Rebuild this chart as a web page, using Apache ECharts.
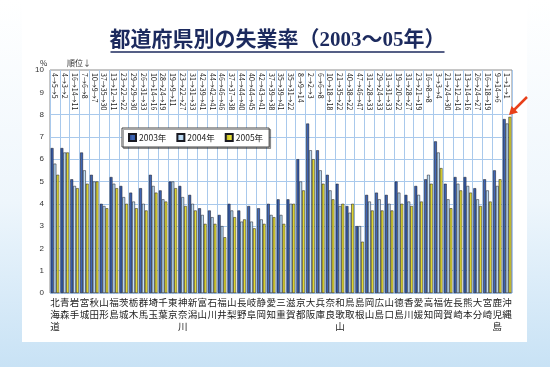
<!DOCTYPE html>
<html><head><meta charset="utf-8">
<script src="https://cdn.jsdelivr.net/npm/echarts@6/dist/echarts.min.js"></script>
<style>html,body{margin:0;padding:0;}#c{width:550px;height:367px;}</style>
</head><body><div id="c"></div>
<script>
const prefectures = ['北海道','青森','岩手','宮城','秋田','山形','福島','茨城','栃木','群馬','埼玉','千葉','東京','神奈川','新潟','富山','石川','福井','山梨','長野','岐阜','静岡','愛知','三重','滋賀','京都','大阪','兵庫','奈良','和歌山','鳥取','島根','岡山','広島','山口','徳島','香川','愛媛','高知','福岡','佐賀','長崎','熊本','大分','宮崎','鹿児島','沖縄'];
const rate2003 = [6.5,6.5,5.1,6.3,5.3,4.0,5.2,4.8,4.5,4.7,5.3,4.6,5.0,4.8,4.4,3.8,3.7,3.5,4.0,3.7,3.9,3.8,4.0,4.2,4.2,6.0,7.6,6.4,5.3,4.9,3.9,3.0,4.4,4.5,4.4,5.0,4.4,4.8,5.1,6.8,4.9,5.2,5.2,4.7,5.1,5.5,7.8];
const rate2004 = [5.8,6.3,4.8,5.5,5.0,3.9,4.9,4.3,4.1,4.0,4.8,4.2,5.0,4.3,4.0,3.5,3.4,3.0,3.7,3.2,3.2,3.3,3.5,3.5,4.0,5.0,6.4,5.5,4.6,3.9,3.6,3.0,4.1,4.2,4.0,4.5,4.1,4.4,5.3,6.3,4.2,4.9,4.8,4.2,4.6,4.8,7.6];
const rate2005 = [5.3,6.3,4.7,4.9,5.0,3.8,4.7,4.0,3.8,3.7,4.5,4.1,4.7,3.9,3.7,3.1,3.1,2.5,3.4,3.3,2.9,3.1,3.4,3.1,4.0,4.6,6.0,4.9,4.2,4.0,4.0,2.3,3.7,3.7,3.7,4.0,3.9,4.1,4.9,5.6,3.8,4.6,4.5,3.9,4.1,5.1,7.9];
const ranks = ['4→5→5','4→3→2','16→14→11','7→6→8','10→9→7','37→35→30','13→12→11','23→22→22','29→29→30','26→31→33','10→14→16','28→24→19','19→9→11','23→22→27','31→31→33','42→39→41','44→42→41','46→46→46','37→37→38','44→44→40','40→44→45','42→43→41','37→39→38','35→39→41','35→31→22','8→9→14','2→2→3','6→6→8','10→18→18','21→35→22','40→38→22','47→46→47','31→28→33','29→24→33','31→31→33','19→20→22','31→28→27','23→21→19','16→8→8','3→3→4','21→24→30','13→12→14','13→14→16','26→24→27','16→18→19','9→14→6','1→1→1'];
const seriesNames = ['2003年','2004年','2005年'];
const yTicks = [0,1,2,3,4,5,6,7,8,9,10];

function hgrad(stops){return {type:'linear',x:0,y:0,x2:1,y2:0,colorStops:stops.map((c,i)=>({offset:i/(stops.length-1),color:c}))};}
const fills = [
  hgrad(['#1e3a80','#4068b8','#2a4c98']),
  hgrad(['#86afd6','#c4e0f6','#9cc2e4']),
  hgrad(['#a39d2c','#e2da30','#f6f040'])
];
const gridColor = '#a9c9ec';
const chart = echarts.init(document.getElementById('c'), null, {renderer:'canvas'});
const titleFont = 'bold 21px "Liberation Serif", "Noto Sans CJK JP", sans-serif';
const tcx = 277.5;
const option = {
  animation:false,
  backgroundColor:{type:'linear',x:0,y:0,x2:0,y2:1,colorStops:[{offset:0,color:'#ffffff'},{offset:0.55,color:'#eef6fc'},{offset:1,color:'#c8e2f5'}]},
  graphic:[
    {type:'rect',z:-100,shape:{x:22,y:0,width:505,height:342},style:{fill:'#ffffff'}},
    {type:'text',z:10,x:tcx,y:41,style:{text:'都道府県別の失業率（2003～05年）',font:titleFont,fill:'#1c2a5e',align:'center',verticalAlign:'middle'}},
    {type:'line',z:10,shape:{x1:tcx-167,y1:52,x2:tcx+167,y2:52},style:{stroke:'#1c2a5e',lineWidth:1.5}},
    {type:'text',z:10,x:40,y:63,style:{text:'%',font:'8px "Noto Sans CJK JP", sans-serif',fill:'#333',verticalAlign:'middle'}},
    {type:'text',z:10,x:67,y:63,style:{text:'順位↓',font:'8px "Noto Sans CJK JP", sans-serif',fill:'#333',verticalAlign:'middle'}},
    {type:'line',z:100,shape:{x1:527,y1:97,x2:514,y2:110},style:{stroke:'#e8401a',lineWidth:2.5}},
    {type:'polygon',z:100,shape:{points:[[509,115],[518,112.5],[511.5,106]]},style:{fill:'#e8401a'}}
  ],
  grid:{left:50,right:38,top:70,bottom:74,show:true,backgroundColor:'#ffffff',borderColor:'#8c8c8c',borderWidth:1},
  legend:{
    data:seriesNames,left:122,top:128,orient:'horizontal',
    backgroundColor:'#ffffff',borderColor:'#444',borderWidth:1,padding:[5,6],
    itemGap:10,itemWidth:7,itemHeight:7,icon:'rect',
    shadowColor:'rgba(0,0,0,0.35)',shadowOffsetX:1.5,shadowOffsetY:1.5,shadowBlur:0,
    textStyle:{fontSize:8.5,color:'#222',fontFamily:'"Noto Sans CJK JP", sans-serif',padding:[0,0,0,-2]}
  },
  xAxis:[
    {type:'category',data:prefectures,gridIndex:0,
     axisLine:{show:false},axisTick:{show:false},
     axisLabel:{interval:0,formatter:v=>v.split('').join('\n'),fontSize:9.5,lineHeight:12,color:'#222',margin:3,fontFamily:'"Noto Sans CJK JP", sans-serif',verticalAlign:'top'},
     splitLine:{show:true,interval:0,lineStyle:{color:gridColor,width:1}}},
    {type:'category',data:ranks,position:'top',gridIndex:0,
     axisLine:{show:false},axisTick:{show:false},splitLine:{show:false},
     axisLabel:{inside:true,rotate:90,interval:0,fontSize:7,margin:3,color:'#222',fontFamily:'"Noto Sans CJK JP", sans-serif'}}
  ],
  yAxis:{type:'value',min:yTicks[0],max:yTicks[yTicks.length-1],interval:1,
    axisLine:{show:false},axisTick:{show:false},
    axisLabel:{fontSize:8,color:'#333',margin:6,fontFamily:'"Liberation Sans", sans-serif'},
    splitLine:{show:true,lineStyle:{color:[gridColor,gridColor,gridColor,gridColor,gridColor,gridColor,gridColor,gridColor,gridColor,'rgba(0,0,0,0)','rgba(0,0,0,0)'],width:1}}},
  series:[rate2003,rate2004,rate2005].map((d,i)=>({
    name:seriesNames[i],type:'bar',xAxisIndex:0,data:d,
    barGap:'0%',barCategoryGap:'14%',
    itemStyle:{color:fills[i],borderColor:'#1a1a22',borderWidth:0.5}
  }))
};
chart.setOption(option);
</script></body></html>
